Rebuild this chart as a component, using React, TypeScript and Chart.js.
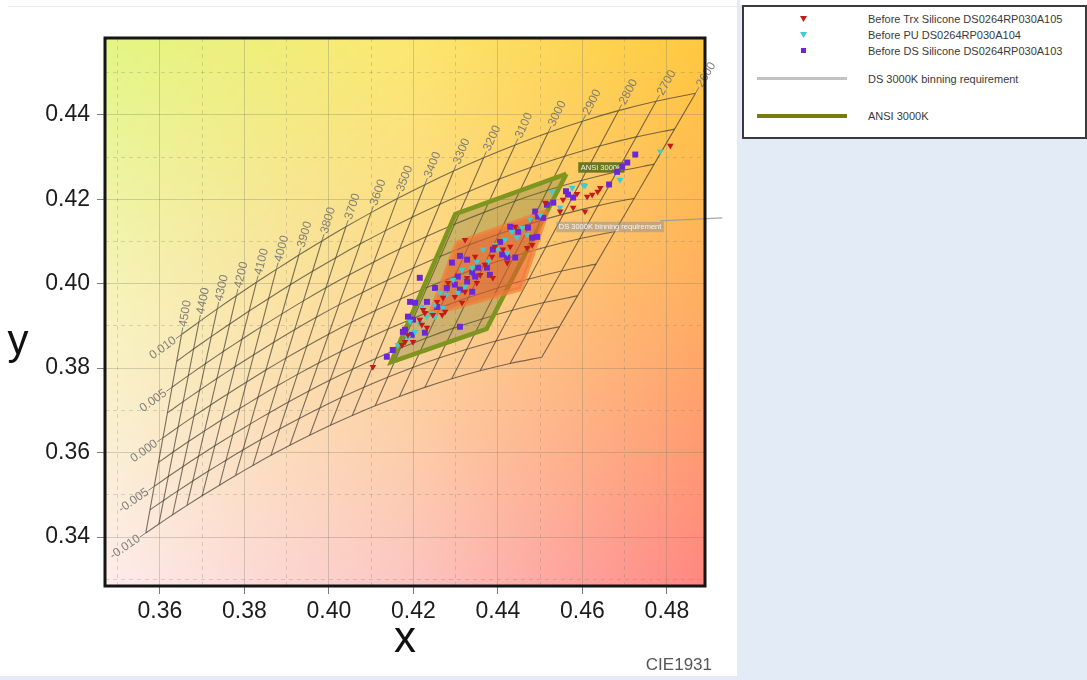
import React, { useEffect, useRef } from 'react';
import { Chart, registerables } from 'chart.js';

Chart.register(...registerables);

const FONT = '"Liberation Sans", Arial, Helvetica, sans-serif';

// Isotemperature grid values (labels of the grid)
const cctValues = [4500, 4400, 4300, 4200, 4100, 4000, 3900, 3800, 3700, 3600, 3500, 3400, 3300, 3200, 3100, 3000, 2900, 2800, 2700, 2600];
const duvValues = [-0.01, -0.0075, -0.005, -0.0025, 0, 0.0025, 0.005, 0.0075, 0.01];
const duvLabelValues = [-0.01, -0.005, 0, 0.005, 0.01];
const duvLabelTexts = ['-0.010', '-0.005', '0.000', '0.005', '0.010'];

// Axis ticks
const xTicks = [0.36, 0.38, 0.40, 0.42, 0.44, 0.46, 0.48];
const xMinorTicks = [0.35, 0.37, 0.39, 0.41, 0.43, 0.45, 0.47];
const yTicks = [0.34, 0.36, 0.38, 0.40, 0.42, 0.44];
const yMinorTicks = [0.33, 0.35, 0.37, 0.39, 0.41, 0.43, 0.45];
const xRange = [0.347, 0.489];
const yRange = [0.3284, 0.4582];

// Bins
const ansi3000K = [
  { x: 0.4562, y: 0.4260 }, { x: 0.4299, y: 0.4165 }, { x: 0.4147, y: 0.3814 }, { x: 0.4373, y: 0.3893 }, { x: 0.4562, y: 0.4260 },
];
const ds3000K = [
  { x: 0.4516, y: 0.4172 }, { x: 0.4303, y: 0.4096 }, { x: 0.4240, y: 0.3928 }, { x: 0.4454, y: 0.3988 }, { x: 0.4516, y: 0.4172 },
];
const planckTail = [{ x: 0.4784, y: 0.4149 }, { x: 0.4931, y: 0.4156 }];
const ansiLabelAt = { x: 0.4590, y: 0.4276 };
const dsLabelAt = { x: 0.4538, y: 0.4135 };

// Measured points
const trxPoints = [
  { x: 0.4623, y: 0.4211 }, { x: 0.4611, y: 0.4206 }, { x: 0.4606, y: 0.4171 }, { x: 0.4578, y: 0.4180 }, { x: 0.4554, y: 0.4199 },
  { x: 0.4547, y: 0.4171 }, { x: 0.4512, y: 0.4192 }, { x: 0.4441, y: 0.4135 }, { x: 0.4469, y: 0.4085 }, { x: 0.4481, y: 0.4092 },
  { x: 0.4429, y: 0.4088 }, { x: 0.4412, y: 0.4081 }, { x: 0.4393, y: 0.4088 }, { x: 0.4386, y: 0.4064 }, { x: 0.4422, y: 0.4050 },
  { x: 0.4369, y: 0.4045 }, { x: 0.4358, y: 0.4021 }, { x: 0.4388, y: 0.4014 }, { x: 0.4322, y: 0.4104 }, { x: 0.4346, y: 0.4064 },
  { x: 0.4327, y: 0.4014 }, { x: 0.4350, y: 0.4002 }, { x: 0.4322, y: 0.3981 }, { x: 0.4282, y: 0.4002 }, { x: 0.4298, y: 0.3969 },
  { x: 0.4315, y: 0.3955 }, { x: 0.4270, y: 0.3967 }, { x: 0.4256, y: 0.3957 }, { x: 0.4275, y: 0.3934 }, { x: 0.4246, y: 0.3926 },
  { x: 0.4227, y: 0.3931 }, { x: 0.4215, y: 0.3915 }, { x: 0.4220, y: 0.3903 }, { x: 0.4187, y: 0.3879 }, { x: 0.4199, y: 0.3862 },
  { x: 0.4808, y: 0.4327 }, { x: 0.4642, y: 0.4227 }, { x: 0.4223, y: 0.3938 }, { x: 0.4268, y: 0.3926 }, { x: 0.4232, y: 0.3896 },
  { x: 0.4180, y: 0.3862 }, { x: 0.4173, y: 0.3855 }, { x: 0.4104, y: 0.3803 }, { x: 0.4636, y: 0.4218 }, { x: 0.4587, y: 0.4213 },
];
const puPoints = [
  { x: 0.4576, y: 0.4227 }, { x: 0.4547, y: 0.4180 }, { x: 0.4528, y: 0.4218 }, { x: 0.4602, y: 0.4234 }, { x: 0.4476, y: 0.4152 },
  { x: 0.4445, y: 0.4109 }, { x: 0.4457, y: 0.4133 }, { x: 0.4469, y: 0.4116 }, { x: 0.4400, y: 0.4081 }, { x: 0.4422, y: 0.4073 },
  { x: 0.4365, y: 0.4081 }, { x: 0.4350, y: 0.4052 }, { x: 0.4339, y: 0.4038 }, { x: 0.4329, y: 0.4017 }, { x: 0.4322, y: 0.3993 },
  { x: 0.4294, y: 0.4009 }, { x: 0.4305, y: 0.3979 }, { x: 0.4279, y: 0.3974 }, { x: 0.4263, y: 0.3979 }, { x: 0.4251, y: 0.3950 },
  { x: 0.4270, y: 0.3943 }, { x: 0.4244, y: 0.3931 }, { x: 0.4232, y: 0.3922 }, { x: 0.4251, y: 0.3922 }, { x: 0.4215, y: 0.3907 },
  { x: 0.4192, y: 0.3910 }, { x: 0.4204, y: 0.3886 }, { x: 0.4784, y: 0.4313 }, { x: 0.4689, y: 0.4246 }, { x: 0.4606, y: 0.4232 },
  { x: 0.4220, y: 0.3945 }, { x: 0.4187, y: 0.3872 }, { x: 0.4163, y: 0.3855 }, { x: 0.4377, y: 0.4052 }, { x: 0.4393, y: 0.4092 },
  { x: 0.4315, y: 0.4033 }, { x: 0.4417, y: 0.4104 }, { x: 0.4433, y: 0.4123 }, { x: 0.4500, y: 0.4163 },
];
const dsPoints = [
  { x: 0.4561, y: 0.4219 }, { x: 0.4566, y: 0.4211 }, { x: 0.4578, y: 0.4204 }, { x: 0.4531, y: 0.4192 }, { x: 0.4516, y: 0.4187 },
  { x: 0.4488, y: 0.4171 }, { x: 0.4495, y: 0.4159 }, { x: 0.4507, y: 0.4156 }, { x: 0.4429, y: 0.4135 }, { x: 0.4448, y: 0.4123 },
  { x: 0.4471, y: 0.4133 }, { x: 0.4481, y: 0.4109 }, { x: 0.4493, y: 0.4111 }, { x: 0.4405, y: 0.4099 }, { x: 0.4388, y: 0.4081 },
  { x: 0.4410, y: 0.4069 }, { x: 0.4422, y: 0.4062 }, { x: 0.4441, y: 0.4062 }, { x: 0.4310, y: 0.4066 }, { x: 0.4327, y: 0.4057 },
  { x: 0.4291, y: 0.4050 }, { x: 0.4353, y: 0.4038 }, { x: 0.4339, y: 0.4026 }, { x: 0.4346, y: 0.4017 }, { x: 0.4327, y: 0.4005 },
  { x: 0.4305, y: 0.4017 }, { x: 0.4310, y: 0.3986 }, { x: 0.4339, y: 0.3981 }, { x: 0.4374, y: 0.4038 }, { x: 0.4381, y: 0.4021 },
  { x: 0.4215, y: 0.4014 }, { x: 0.4251, y: 0.3990 }, { x: 0.4279, y: 0.3990 }, { x: 0.4298, y: 0.3998 }, { x: 0.4232, y: 0.3957 },
  { x: 0.4256, y: 0.3945 }, { x: 0.4204, y: 0.3955 }, { x: 0.4187, y: 0.3922 }, { x: 0.4199, y: 0.3915 }, { x: 0.4180, y: 0.3891 },
  { x: 0.4310, y: 0.3898 }, { x: 0.4227, y: 0.3884 }, { x: 0.4725, y: 0.4306 }, { x: 0.4706, y: 0.4287 }, { x: 0.4694, y: 0.4277 },
  { x: 0.4682, y: 0.4265 }, { x: 0.4663, y: 0.4235 }, { x: 0.4192, y: 0.3957 }, { x: 0.4175, y: 0.3886 }, { x: 0.4196, y: 0.3879 },
  { x: 0.4151, y: 0.3843 }, { x: 0.4137, y: 0.3827 },
];

// ---- colorimetry: Planckian locus (Kim et al.) and Duv offsets in CIE 1960 uv ----
function planckXY(T: number): [number, number] {
  let x: number;
  if (T <= 4000) x = -0.2661239e9 / T ** 3 - 0.2343589e6 / T ** 2 + 0.8776956e3 / T + 0.17991;
  else x = -3.0258469e9 / T ** 3 + 2.1070379e6 / T ** 2 + 0.2226347e3 / T + 0.24039;
  let y: number;
  if (T <= 2222) y = -1.1063814 * x ** 3 - 1.3481102 * x ** 2 + 2.18555832 * x - 0.20219683;
  else if (T <= 4000) y = -0.9549476 * x ** 3 - 1.37418593 * x ** 2 + 2.09137015 * x - 0.16748867;
  else y = 3.081758 * x ** 3 - 5.8733867 * x ** 2 + 3.75112997 * x - 0.37001483;
  return [x, y];
}
function xyToUv(x: number, y: number): [number, number] {
  const d = -2 * x + 12 * y + 3;
  return [(4 * x) / d, (6 * y) / d];
}
function uvToXy(u: number, v: number): [number, number] {
  const d = 2 * u - 8 * v + 4;
  return [(3 * u) / d, (2 * v) / d];
}
function cctDuv(T: number, duv: number) {
  const [u0, v0] = xyToUv(...planckXY(T));
  const [ua, va] = xyToUv(...planckXY(T - 5));
  const [ub, vb] = xyToUv(...planckXY(T + 5));
  let tu = ua - ub, tv = va - vb;
  const n = Math.hypot(tu, tv);
  tu /= n; tv /= n;
  const [x, y] = uvToXy(u0 - tv * duv, v0 + tu * duv);
  return { x, y };
}

const GRID_COLOR = 'rgba(70,64,50,0.72)';
const LABEL_COLOR = 'rgba(115,115,115,0.9)';

const bgColors = [
  [[226, 246, 132], [251, 232, 112], [255, 200, 62]],
  [[247, 243, 190], [253, 214, 148], [255, 172, 98]],
  [[253, 236, 235], [252, 198, 194], [255, 134, 128]],
];

const bgPlugin = {
  id: 'cieBackground',
  beforeDraw(chart: any) {
    const { ctx, chartArea: a } = chart;
    const w = Math.round(a.right - a.left), h = Math.round(a.bottom - a.top);
    const img = ctx.createImageData(w, h);
    for (let j = 0; j < h; j++) {
      const fy = (j / (h - 1)) * 2;
      const r0 = Math.min(1, Math.floor(fy));
      const ty = fy - r0;
      for (let i = 0; i < w; i++) {
        const fx = (i / (w - 1)) * 2;
        const c0 = Math.min(1, Math.floor(fx));
        const tx = fx - c0;
        const k = (j * w + i) * 4;
        for (let ch = 0; ch < 3; ch++) {
          const top = bgColors[r0][c0][ch] * (1 - tx) + bgColors[r0][c0 + 1][ch] * tx;
          const bot = bgColors[r0 + 1][c0][ch] * (1 - tx) + bgColors[r0 + 1][c0 + 1][ch] * tx;
          img.data[k + ch] = top * (1 - ty) + bot * ty;
        }
        img.data[k + 3] = 255;
      }
    }
    ctx.putImageData(img, Math.round(a.left), Math.round(a.top));
  },
};

function boxLabel(ctx: any, px: number, py: number, text: string, fill: string, color: string) {
  ctx.save();
  ctx.font = `7.5px ${FONT}`;
  const w = ctx.measureText(text).width + 5;
  ctx.fillStyle = fill;
  ctx.fillRect(px, py - 5, w, 10.5);
  ctx.fillStyle = color;
  ctx.textAlign = 'left';
  ctx.textBaseline = 'middle';
  ctx.fillText(text, px + 2.5, py + 0.5);
  ctx.restore();
}

const labelsPlugin = {
  id: 'gridLabels',
  beforeDatasetDraw(chart: any, args: any) {
    if (args.index !== 2) return;
    const { ctx, scales } = chart;
    const P = (p: { x: number; y: number }) => ({ x: scales.x.getPixelForValue(p.x), y: scales.y.getPixelForValue(p.y) });
    ctx.save();
    ctx.strokeStyle = LABEL_COLOR;
    ctx.fillStyle = LABEL_COLOR;
    ctx.lineWidth = 1;
    ctx.font = `12px ${FONT}`;
    ctx.textBaseline = 'middle';
    // CCT labels at upper ends
    for (const T of cctValues) {
      const p = P(cctDuv(T, duvValues[duvValues.length - 1]));
      const q = P(cctDuv(T, duvValues[duvValues.length - 2]));
      let dx = p.x - q.x, dy = p.y - q.y;
      const n = Math.hypot(dx, dy);
      dx /= n; dy /= n;
      ctx.beginPath();
      ctx.moveTo(p.x, p.y);
      ctx.lineTo(p.x + dx * 7, p.y + dy * 7);
      ctx.stroke();
      ctx.save();
      ctx.translate(p.x + dx * 8, p.y + dy * 8);
      ctx.rotate(Math.atan2(dy, dx));
      ctx.textAlign = 'left';
      ctx.fillText(String(T), 0, 0);
      ctx.restore();
    }
    // Duv labels at left ends
    duvLabelValues.forEach((dv, i) => {
      const p = P(cctDuv(cctValues[0], dv));
      const q = P(cctDuv(cctValues[1], dv));
      let dx = p.x - q.x, dy = p.y - q.y;
      const n = Math.hypot(dx, dy);
      dx /= n; dy /= n;
      ctx.beginPath();
      ctx.moveTo(p.x, p.y);
      ctx.lineTo(p.x + dx * 7, p.y + dy * 7);
      ctx.stroke();
      ctx.save();
      ctx.translate(p.x + dx * 8, p.y + dy * 8);
      ctx.rotate(Math.atan2(-dy, -dx));
      ctx.textAlign = 'right';
      ctx.fillText(duvLabelTexts[i], 0, 0);
      ctx.restore();
    });
    ctx.restore();
    const a1 = P(ansiLabelAt);
    boxLabel(ctx, a1.x, a1.y, 'ANSI 3000K', 'rgba(96,112,28,0.92)', '#f4f4e8');
    const a2 = P(dsLabelAt);
    boxLabel(ctx, a2.x, a2.y, 'DS 3000K binning requirement', 'rgba(150,150,150,0.55)', 'rgba(250,250,250,0.95)');
  },
  afterDraw(chart: any) {
    const { ctx, chartArea: a } = chart;
    ctx.save();
    ctx.strokeStyle = '#151515';
    ctx.lineWidth = 3;
    ctx.strokeRect(a.left, a.top, a.right - a.left, a.bottom - a.top);
    ctx.fillStyle = '#111';
    ctx.font = `42px ${FONT}`;
    ctx.textAlign = 'center';
    ctx.textBaseline = 'alphabetic';
    ctx.fillText('y', 18, 354);
    ctx.fillStyle = '#555';
    ctx.font = `17px ${FONT}`;
    ctx.textAlign = 'right';
    ctx.fillText('CIE1931', a.right + 7, 670);
    ctx.restore();
  },
};

function App() {
  const ref = useRef<HTMLCanvasElement | null>(null);
  useEffect(() => {
    document.body.style.margin = '0';
    const canvas = ref.current;
    if (!canvas) return;
    const gridStyle = {
      type: 'line' as const, showLine: true, pointRadius: 0, pointHoverRadius: 0,
      borderColor: GRID_COLOR, borderWidth: 1.1, fill: false,
    };
    const cctLines = cctValues.map((T) => ({ ...gridStyle, label: `${T}K`, data: duvValues.map((d) => cctDuv(T, d)), tension: 0 }));
    const duvLines = duvValues.map((d) => ({ ...gridStyle, label: `Duv ${d}`, data: cctValues.map((T) => cctDuv(T, d)), tension: 0.3 }));

    const majorGrid = { color: 'rgba(120,118,100,0.3)', lineWidth: 1, drawTicks: true, tickLength: 8, tickColor: 'rgba(80,80,80,0.75)' };
    const minorGrid = { color: 'rgba(120,118,100,0.26)', lineWidth: 1, drawTicks: false };
    const tickFont = { family: FONT, size: 23 };

    const chart = new Chart(canvas, {
      type: 'scatter',
      data: {
        datasets: [
          { label: 'Before Trx Silicone DS0264RP030A105', data: trxPoints, pointStyle: 'triangle', rotation: 180, pointRadius: 3.8, backgroundColor: '#c41a1c', borderColor: '#c41a1c', borderWidth: 0 },
          { label: 'Before PU DS0264RP030A104', data: puPoints, pointStyle: 'triangle', rotation: 180, pointRadius: 3.8, backgroundColor: '#3fcbd2', borderColor: '#3fcbd2', borderWidth: 0 },
          { label: 'Before DS Silicone DS0264RP030A103', data: dsPoints, pointStyle: 'rect', pointRadius: 4.2, backgroundColor: '#6a28d8', borderColor: '#6a28d8', borderWidth: 0 },
          { type: 'line', label: 'DS 3000K binning requirement', data: ds3000K, showLine: true, pointRadius: 0, borderColor: 'rgba(240,125,55,0.7)', borderWidth: 5, backgroundColor: 'rgba(236,88,40,0.55)', fill: 'shape', tension: 0 },
          { type: 'line', label: 'ANSI 3000K', data: ansi3000K, showLine: true, pointRadius: 0, borderColor: '#7e9520', borderWidth: 4.5, backgroundColor: 'rgba(100,105,40,0.3)', fill: 'shape', tension: 0 },
          { type: 'line', label: 'Planckian tail', data: planckTail, showLine: true, pointRadius: 0, borderColor: 'rgba(150,150,150,0.85)', borderWidth: 1.3, fill: false, clip: false },
          ...cctLines,
          ...duvLines,
        ] as any,
      },
      options: {
        responsive: false,
        animation: false,
        events: [],
        layout: { padding: { left: 0, right: 32, top: 38, bottom: 0 } },
        plugins: { legend: { display: false }, tooltip: { enabled: false }, title: { display: false } },
        scales: {
          x: {
            type: 'linear', position: 'bottom', min: xRange[0], max: xRange[1],
            afterBuildTicks: (s: any) => { s.ticks = xTicks.map((v) => ({ value: v })); },
            afterFit: (s: any) => { s.height = 90; },
            ticks: { font: tickFont, color: '#1c1c1c', padding: 4, maxRotation: 0, autoSkip: false, callback: (v: any) => Number(v).toFixed(2) },
            grid: majorGrid,
            border: { display: false },
            title: { display: true, text: 'x', font: { family: FONT, size: 44, lineHeight: 1 }, color: '#111', padding: { top: 0, bottom: 14 } },
          },
          x2: {
            type: 'linear', position: 'bottom', min: xRange[0], max: xRange[1],
            afterBuildTicks: (s: any) => { s.ticks = xMinorTicks.map((v) => ({ value: v })); },
            afterFit: (s: any) => { s.height = 0; },
            ticks: { display: false },
            grid: minorGrid,
            border: { display: false, dash: [4, 4] },
          },
          y: {
            type: 'linear', position: 'left', min: yRange[0], max: yRange[1],
            afterBuildTicks: (s: any) => { s.ticks = yTicks.map((v) => ({ value: v })); },
            afterFit: (s: any) => { s.width = 105; },
            ticks: { font: tickFont, color: '#1c1c1c', padding: 7, autoSkip: false, callback: (v: any) => Number(v).toFixed(2) },
            grid: majorGrid,
            border: { display: false },
          },
          y2: {
            type: 'linear', position: 'left', min: yRange[0], max: yRange[1],
            afterBuildTicks: (s: any) => { s.ticks = yMinorTicks.map((v) => ({ value: v })); },
            afterFit: (s: any) => { s.width = 0; },
            ticks: { display: false },
            grid: minorGrid,
            border: { display: false, dash: [4, 4] },
          },
        },
      } as any,
      plugins: [bgPlugin, labelsPlugin],
    });
    return () => chart.destroy();
  }, []);

  const legendText: React.CSSProperties = { position: 'absolute', left: 124, fontSize: 11, lineHeight: '14px', color: '#3a3a3a', whiteSpace: 'nowrap' };
  return (
    <div style={{ position: 'absolute', left: 0, top: 0, width: 1087, height: 680, background: '#e3ecf6', overflow: 'hidden', fontFamily: FONT }}>
      <div style={{ position: 'absolute', left: 0, top: 0, width: 737, height: 676, background: '#ffffff' }} />
      <div style={{ position: 'absolute', left: 8, top: 6, width: 729, height: 1, background: '#ececec' }} />
      <canvas ref={ref} width={737} height={676} style={{ position: 'absolute', left: 0, top: 0 }} />
      <div style={{ position: 'absolute', left: 740, top: 0, width: 347, height: 5, background: '#ffffff' }} />
      <div style={{ position: 'absolute', left: 742, top: 5, width: 341, height: 130, border: '2px solid #3a3a3a', background: '#ffffff' }}>
        <svg style={{ position: 'absolute', left: 56, top: 9 }} width={7} height={6}><polygon points="0,0 7,0 3.5,6" fill="#c41a1c" /></svg>
        <div style={{ ...legendText, top: 5 }}>Before Trx Silicone DS0264RP030A105</div>
        <svg style={{ position: 'absolute', left: 56, top: 25 }} width={7} height={6}><polygon points="0,0 7,0 3.5,6" fill="#3fcbd2" /></svg>
        <div style={{ ...legendText, top: 21 }}>Before PU DS0264RP030A104</div>
        <svg style={{ position: 'absolute', left: 57, top: 41 }} width={5} height={5}><rect x={0} y={0} width={5} height={5} fill="#6a28d8" /></svg>
        <div style={{ ...legendText, top: 37 }}>Before DS Silicone DS0264RP030A103</div>
        <div style={{ position: 'absolute', left: 13, top: 70, width: 90, height: 3, background: '#c2c2c2' }} />
        <div style={{ ...legendText, top: 65 }}>DS 3000K binning requirement</div>
        <div style={{ position: 'absolute', left: 13, top: 107, width: 90, height: 4, background: '#7a7a10' }} />
        <div style={{ ...legendText, top: 102 }}>ANSI 3000K</div>
      </div>
    </div>
  );
}

export default App;
